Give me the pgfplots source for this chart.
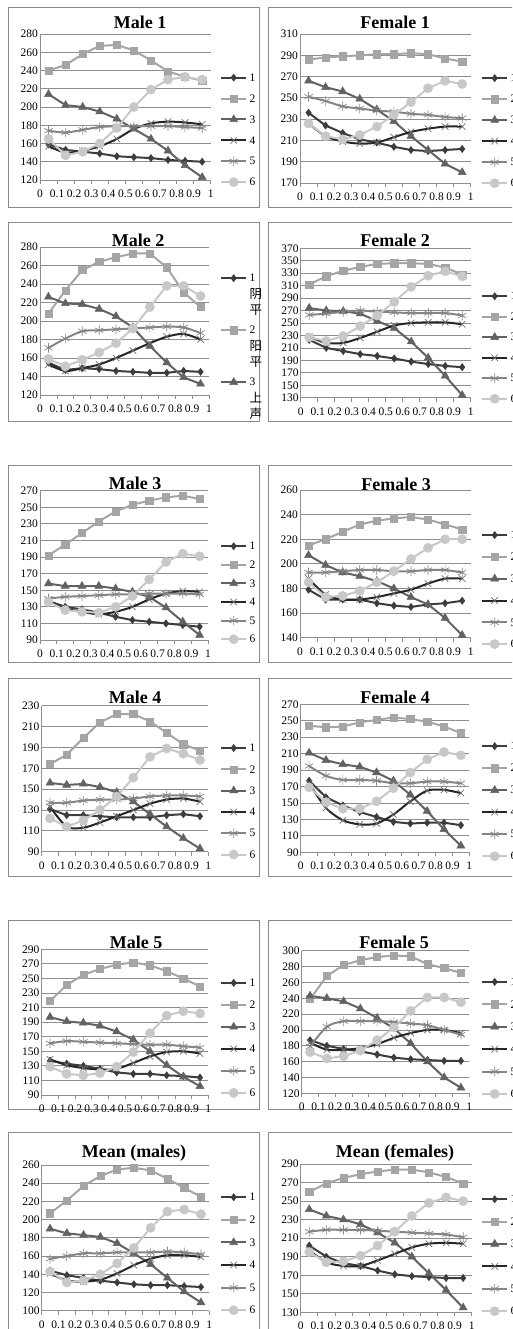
\documentclass[border=0pt]{standalone}
\usepackage{pgfplots}
\pgfplotsset{compat=1.18}
\usepackage{pgfplotstable}
\usepackage{fontspec}
\setmainfont{Liberation Serif}
\newfontfamily\cjk{Noto Sans CJK SC}

\definecolor{c1}{HTML}{3C3C3C}
\definecolor{c2}{HTML}{A5A5A5}
\definecolor{c3}{HTML}{626262}
\definecolor{c4}{HTML}{262626}
\definecolor{c4m}{HTML}{707070}
\definecolor{c5}{HTML}{858585}
\definecolor{c6}{HTML}{C8C8C8}
\definecolor{gridc}{HTML}{8E8E8E}
\definecolor{boxc}{HTML}{8A8A8A}

% ---------------- data: columns a..f = tones 1..6 ----------------
\pgfplotstableread{
x a b c d e f
0.05 159 240 214 157 174 165
0.15 153 246 202 150 172 147
0.25 151 258 200 152 175 151
0.35 149 267 195 157 178 160
0.45 146 268 187 165 179 177
0.55 145 262 176 176 179 200
0.65 144 251 165 182 179 219
0.75 142 239 152 184 179 230
0.85 141 233 136 183 178 233
0.95 140 229 123 181 177 230
}\maleone
\pgfplotstableread{
x a b c d e f
0.05 236 286 266 226 251 226
0.15 224 288 260 214 247 214
0.25 217 289 256 209 242 211
0.35 211 290 249 207 240 215
0.45 208 291 239 208 238 223
0.55 204 291 228 213 237 234
0.65 201 292 214 218 235 246
0.75 200 291 201 221 234 259
0.85 201 287 188 223 232 266
0.95 202 284 180 223 231 263
}\femaleone
\pgfplotstableread{
x a b c d e f
0.05 155 208 226 153 171 159
0.15 147 233 219 146 181 151
0.25 149 255 218 149 189 158
0.35 148 264 213 153 190 166
0.45 146 269 205 160 191 176
0.55 145 273 193 168 192 192
0.65 144 273 173 176 193 215
0.75 144 258 155 183 194 238
0.85 146 231 139 186 193 238
0.95 145 215 132 180 187 227
}\maletwo
\pgfplotstableread{
x a b c d e f
0.05 223 312 274 228 263 227
0.15 210 325 270 218 265 221
0.25 205 334 269 218 268 229
0.35 200 340 265 226 270 245
0.45 197 345 253 236 268 262
0.55 193 346 242 246 267 284
0.65 188 346 220 250 266 308
0.75 184 345 194 251 266 326
0.85 181 339 165 251 266 333
0.95 179 328 134 248 262 325
}\femaletwo
\pgfplotstableread{
x a b c d e f
0.05 137 192 158 137 140 136
0.15 130 205 155 128 142 126
0.25 127 219 155 124 143 124
0.35 123 233 155 121 144 123
0.45 118 245 152 124 145 130
0.55 114 253 148 130 145 143
0.65 112 258 142 139 146 163
0.75 110 262 129 146 146 184
0.85 108 264 112 149 146 194
0.95 106 260 96 148 145 191
}\malethree
\pgfplotstableread{
x a b c d e f
0.05 179 215 207 188 193 185
0.15 171 220 199 175 193 173
0.25 171 226 193 171 194 174
0.35 171 232 190 171 195 178
0.45 168 235 186 173 195 185
0.55 166 237 180 176 194 194
0.65 165 238 173 179 194 204
0.75 167 236 167 184 195 213
0.85 168 232 156 188 195 220
0.95 170 228 142 188 193 220
}\femalethree
\pgfplotstableread{
x a b c d e f
0.05 131 174 156 133 137 122
0.15 125 183 154 114 137 114
0.25 125 199 155 113 139 120
0.35 124 214 152 118 140 130
0.45 123 222 147 124 140 143
0.55 123 222 138 130 141 161
0.65 123 215 126 136 143 181
0.75 125 204 114 140 144 189
0.85 126 193 103 141 144 184
0.95 124 187 93 138 143 178
}\malefour
\pgfplotstableread{
x a b c d e f
0.05 177 244 211 174 195 169
0.15 157 242 202 144 183 151
0.25 147 243 197 129 178 143
0.35 139 248 194 124 178 143
0.45 133 251 187 125 177 152
0.55 127 254 177 136 174 168
0.65 125 252 160 152 174 187
0.75 126 249 140 165 176 203
0.85 126 243 118 166 176 212
0.95 123 235 98 162 174 208
}\femalefour
\pgfplotstableread{
x a b c d e f
0.05 137 219 197 139 161 129
0.15 133 241 191 131 164 119
0.25 130 255 189 127 163 117
0.35 126 263 185 125 162 120
0.45 121 269 177 126 161 129
0.55 119 272 166 134 160 149
0.65 119 268 150 143 159 175
0.75 117 260 131 149 159 199
0.85 116 250 115 150 157 205
0.95 114 239 102 147 155 202
}\malefive
\pgfplotstableread{
x a b c d e f
0.05 187 239 243 184 179 172
0.15 180 268 240 175 204 164
0.25 176 282 236 175 211 167
0.35 173 288 227 177 211 174
0.45 169 292 215 182 211 187
0.55 165 294 202 190 210 203
0.65 163 293 183 196 208 224
0.75 162 283 160 200 206 241
0.85 161 278 140 200 200 241
0.95 161 272 127 196 194 235
}\femalefive
\pgfplotstableread{
x a b c d e f
0.05 144 207 190 141 157 143
0.15 139 221 185 133 160 131
0.25 136 237 183 132 163 133
0.35 133 248 181 134 163 140
0.45 131 255 174 141 164 152
0.55 129 257 163 150 164 169
0.65 128 254 151 157 164 191
0.75 128 245 136 161 165 209
0.85 127 235 121 161 164 211
0.95 126 225 109 159 162 206
}\meanmale
\pgfplotstableread{
x a b c d e f
0.05 202 260 241 197 217 195
0.15 190 269 234 184 219 184
0.25 183 275 230 180 219 185
0.35 180 279 225 180 219 191
0.45 175 282 216 186 218 202
0.55 171 284 205 193 217 217
0.65 169 284 190 200 216 234
0.75 168 281 172 204 215 248
0.85 167 276 154 205 214 254
0.95 167 269 135 204 211 250
}\meanfemale

\pgfplotsset{
  panel/.style={
    scale only axis, xmin=0, xmax=1, clip=false,
    axis lines*=left,
    axis line style={draw=gridc, line width=0.8pt},
    ymajorgrids, major grid style={draw=gridc, line width=0.8pt},
    xtick={0,0.1,...,1},
    tick align=outside, major tick length=4pt,
    xtick style={draw=gridc, line width=0.8pt},
    ytick style={draw=none},
    tick label style={font=\fontsize{11.5}{13}\selectfont},
    yticklabel style={inner xsep=0pt, xshift=2pt},
    xticklabel style={yshift=-2.5pt},
    /pgf/number format/assume math mode=true,
    legend cell align=left,
    legend style={draw=none, fill=none, inner sep=0pt, row sep=0pt,
      font=\fontsize{11.5}{13}\selectfont},
    legend image code/.code={\draw[mark repeat=2,mark phase=2]
      plot coordinates {(0pt,0pt) (12.5pt,0pt) (25pt,0pt)};},
  },
  s1/.style={color=c1, line width=2pt, mark=diamond*, mark size=3.6pt,
    mark options={fill=c1, draw=c1, line width=0.5pt}},
  s2/.style={color=c2, line width=2pt, mark=square*, mark size=3.6pt,
    mark options={fill=c2, draw=c2, line width=0.5pt}},
  s3/.style={color=c3, line width=2pt, mark=triangle*, mark size=4.6pt,
    mark options={fill=c3, draw=c3, line width=0.5pt}},
  s4/.style={color=c4, line width=2pt, smooth, mark=x, mark size=4.6pt,
    mark options={draw=c4m, line width=0.7pt}},
  s5/.style={color=c5, line width=2pt, smooth, mark=asterisk, mark size=4.8pt,
    mark options={draw=c5, line width=0.7pt}},
  s6/.style={color=c6, line width=2pt, mark=*, mark size=4.6pt,
    mark options={fill=c6, draw=c6, line width=0.5pt}},
  leg/.style n args={4}{legend style={at={(1,1)}, anchor=north west,
    xshift=#1, yshift=#2,
    nodes={inner sep=0pt, inner xsep=2.5pt, text height=#3, text depth=#4}}},
}

% the six tone contours of one speaker
\newcommand{\tones}[1]{%
  \addplot[s1] table[x=x,y=a]{#1};
  \addplot[s2] table[x=x,y=b]{#1};
  \addplot[s3] table[x=x,y=c]{#1};
  \addplot[s4] table[x=x,y=d]{#1};
  \addplot[s5] table[x=x,y=e]{#1};
  \addplot[s6] table[x=x,y=f]{#1};
}
\newcommand{\ttl}[3]{\node[font=\bfseries\fontsize{18}{20}\selectfont] at (#1pt,-#2pt) {#3};}
% stacked legend label: tone number with its name below, one glyph per line
\newcommand{\stk}[3]{\vtop{\baselineskip=16.5pt\lineskiplimit=0pt
  \hbox{#1}\hbox{\cjk\fontsize{12.5}{16.5}\selectfont #2}%
  \hbox{\cjk\fontsize{12.5}{16.5}\selectfont #3}}}

\begin{document}
\begin{tikzpicture}
\path[use as bounding box] (0pt,0pt) rectangle (512pt,-1329pt);
\clip (0pt,0pt) rectangle (512pt,-1329pt);

% chart frames
\begin{scope}[draw=boxc, line width=0.8pt]
\draw (8pt,-7pt) rectangle (259pt,-207pt);
\draw (268pt,-7pt) rectangle (530pt,-207pt);
\draw (8pt,-222pt) rectangle (259pt,-421pt);
\draw (268pt,-222pt) rectangle (530pt,-421pt);
\draw (8pt,-465pt) rectangle (259pt,-662pt);
\draw (268pt,-465pt) rectangle (530pt,-662pt);
\draw (8pt,-678pt) rectangle (259pt,-876pt);
\draw (268pt,-678pt) rectangle (530pt,-876pt);
\draw (8pt,-920pt) rectangle (259pt,-1109pt);
\draw (268pt,-920pt) rectangle (530pt,-1109pt);
\draw (8pt,-1132pt) rectangle (259pt,-1345pt);
\draw (268pt,-1132pt) rectangle (530pt,-1345pt);
\end{scope}

% ---- row 1
\begin{axis}[panel, at={(40pt,-34pt)}, anchor=north west, width=170.7pt, height=146pt,
  ymin=120, ymax=280, ytick={120,140,...,280}, leg={9.3pt}{-33pt}{14.15pt}{6.75pt}]
\tones{\maleone}
\legend{1,2,3,4,5,6}
\end{axis}
\begin{axis}[panel, at={(300pt,-34pt)}, anchor=north west, width=170.7pt, height=149pt,
  ymin=170, ymax=310, ytick={170,190,...,310}, leg={10.3pt}{-33.5pt}{14.2pt}{6.8pt}]
\tones{\femaleone}
\legend{1,2,3,4,5,6}
\end{axis}

% ---- row 2
\begin{axis}[panel, at={(40pt,-247pt)}, anchor=north west, width=169pt, height=148pt,
  ymin=120, ymax=280, ytick={120,140,...,280},
  legend style={at={(1,1)}, anchor=north west, xshift=11pt, yshift=7.7pt, row sep=-25.4pt,
    nodes={inner sep=0pt, inner xsep=2.5pt, text height=42.4pt, text depth=35pt}}]
\tones{\maletwo}
\addlegendentry{\stk{1}{阴}{平}}
\addlegendentry{\stk{2}{阳}{平}}
\addlegendentry{\stk{3}{上}{声}}
\end{axis}
\begin{axis}[panel, at={(300.7pt,-248.3pt)}, anchor=north west, width=170pt, height=149.4pt,
  ymin=130, ymax=370, ytick={130,150,...,370}, leg={10.3pt}{-37.5pt}{13.95pt}{6.55pt}]
\tones{\femaletwo}
\legend{1,2,3,4,5,6}
\end{axis}

% ---- row 3
\begin{axis}[panel, at={(40pt,-490.7pt)}, anchor=north west, width=168pt, height=149.3pt,
  ymin=90, ymax=270, ytick={90,110,...,270}, leg={12pt}{-46pt}{13pt}{5.6pt}]
\tones{\malethree}
\legend{1,2,3,4,5,6}
\end{axis}
\begin{axis}[panel, at={(300pt,-490pt)}, anchor=north west, width=170.7pt, height=147.7pt,
  ymin=140, ymax=260, ytick={140,160,...,260}, leg={10.3pt}{-34pt}{14.6pt}{7.2pt}]
\tones{\femalethree}
\legend{1,2,3,4,5,6}
\end{axis}

% ---- row 4
\begin{axis}[panel, at={(41.7pt,-705.7pt)}, anchor=north west, width=166.6pt, height=146pt,
  ymin=90, ymax=230, ytick={90,110,...,230}, leg={11.7pt}{-31.5pt}{14.35pt}{6.95pt}]
\tones{\malefour}
\legend{1,2,3,4,5,6}
\end{axis}
\begin{axis}[panel, at={(300.7pt,-704.3pt)}, anchor=north west, width=168.6pt, height=148pt,
  ymin=90, ymax=270, ytick={90,110,...,270}, leg={11.7pt}{-30.7pt}{14.7pt}{7.3pt}]
\tones{\femalefour}
\legend{1,2,3,4,5,6}
\end{axis}

% ---- row 5
\begin{axis}[panel, at={(41.7pt,-949.3pt)}, anchor=north west, width=166.6pt, height=145.7pt,
  ymin=90, ymax=290, ytick={90,110,...,290}, leg={11.7pt}{-22.4pt}{14.7pt}{7.3pt}]
\tones{\malefive}
\legend{1,2,3,4,5,6}
\end{axis}
\begin{axis}[panel, at={(301.7pt,-950.7pt)}, anchor=north west, width=167.6pt, height=142.6pt,
  ymin=120, ymax=300, ytick={120,140,...,300}, leg={11.7pt}{-19.8pt}{14.9pt}{7.5pt}]
\tones{\femalefive}
\legend{1,2,3,4,5,6}
\end{axis}

% ---- row 6
\begin{axis}[panel, at={(41.7pt,-1165pt)}, anchor=north west, width=167.6pt, height=145.7pt,
  ymin=100, ymax=260, ytick={100,120,...,260}, leg={10.7pt}{-20.7pt}{15pt}{7.6pt}]
\tones{\meanmale}
\legend{1,2,3,4,5,6}
\end{axis}
\begin{axis}[panel, at={(300.7pt,-1164pt)}, anchor=north west, width=171pt, height=148.3pt,
  ymin=130, ymax=290, ytick={130,150,...,290}, leg={9.3pt}{-23.8pt}{14.9pt}{7.5pt}]
\tones{\meanfemale}
\legend{1,2,3,4,5,6}
\end{axis}

% chart titles
\ttl{140}{22}{Male 1}
\ttl{395}{22}{Female 1}
\ttl{138}{240}{Male 2}
\ttl{395}{240}{Female 2}
\ttl{135}{483}{Male 3}
\ttl{396}{484}{Female 3}
\ttl{135}{697}{Male 4}
\ttl{395}{697}{Female 4}
\ttl{136}{942}{Male 5}
\ttl{394}{942}{Female 5}
\ttl{134}{1153}{Mean (males)}
\ttl{395}{1153}{Mean (females)}
\end{tikzpicture}
\end{document}
